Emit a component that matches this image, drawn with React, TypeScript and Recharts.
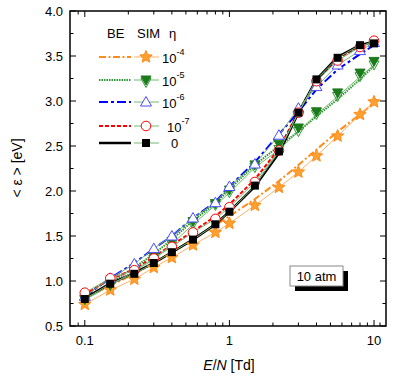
import React from "react";
import { LineChart, Line, XAxis, YAxis, ReferenceArea } from "recharts";

// E/N [Td]
const EN = [0.1, 0.15, 0.22, 0.3, 0.4, 0.56, 0.8, 1, 1.5, 2.2, 3, 4, 5.6, 8, 10];

// BE (Boltzmann equation) curves
const BE_1E4 = [0.8, 0.95, 1.08, 1.2, 1.31, 1.47, 1.62, 1.72, 1.91, 2.11, 2.29, 2.46, 2.66, 2.85, 2.98];
const BE_1E5 = [0.8, 0.98, 1.15, 1.3, 1.46, 1.67, 1.86, 2.02, 2.29, 2.5, 2.66, 2.83, 3.02, 3.24, 3.39];
const BE_1E6 = [0.83, 1.03, 1.2, 1.36, 1.5, 1.7, 1.88, 2.05, 2.32, 2.63, 2.88, 3.13, 3.35, 3.52, 3.62];
const BE_1E7 = [0.85, 1.02, 1.13, 1.27, 1.4, 1.55, 1.72, 1.85, 2.13, 2.47, 2.88, 3.23, 3.47, 3.61, 3.66];
const BE_0 = [0.81, 0.97, 1.09, 1.2, 1.32, 1.46, 1.63, 1.77, 2.05, 2.42, 2.87, 3.24, 3.49, 3.62, 3.66];

// SIM (simulation) points
const SIM_1E4 = [0.74, 0.9, 1.02, 1.15, 1.26, 1.4, 1.54, 1.64, 1.84, 2.04, 2.21, 2.39, 2.61, 2.85, 2.99];
const SIM_1E5 = [0.8, 0.96, 1.13, 1.27, 1.44, 1.66, 1.86, 2.01, 2.29, 2.52, 2.7, 2.88, 3.09, 3.31, 3.44];
const SIM_1E5B = [0.79, 0.95, 1.11, 1.24, 1.41, 1.63, 1.84, 1.98, 2.26, 2.46, 2.66, 2.85, 3.05, 3.27, 3.4];
const SIM_1E6 = [0.83, 1.03, 1.19, 1.36, 1.5, 1.7, 1.87, 2.05, 2.3, 2.62, 2.92, 3.16, 3.4, 3.56, 3.65];
const SIM_1E7 = [0.87, 1.03, 1.12, 1.25, 1.38, 1.54, 1.69, 1.82, 2.1, 2.45, 2.87, 3.22, 3.45, 3.6, 3.67];
const SIM_0 = [0.8, 0.97, 1.08, 1.2, 1.32, 1.46, 1.63, 1.77, 2.06, 2.44, 2.87, 3.24, 3.48, 3.62, 3.64];

const X_TICKS = [0.09, 0.1, 0.2, 0.3, 0.4, 0.5, 0.6, 0.7, 0.8, 0.9, 1, 2, 3, 4, 5, 6, 7, 8, 9, 10, 11];
const X_LABELS: Record<string, string> = { "0.1": "0.1", "1": "1", "10": "10" };
const Y_TICKS = [0.5, 0.75, 1, 1.25, 1.5, 1.75, 2, 2.25, 2.5, 2.75, 3, 3.25, 3.5, 3.75, 4];

const W = 417;
const H = 377;
const MARGIN = { top: 11, right: 31, bottom: 21, left: 10 };
const PLOT_TOP = MARGIN.top;
const PLOT_RIGHT = W - MARGIN.right;
const FONT = "'Liberation Sans', Arial, sans-serif";

const ORANGE = "#ff8c1a";
const STAR_FILL = "#ffa02e";
const DKGREEN = "#1b7a1b";
const GREEN = "#2e9a2e";
const LTGREEN = "#74b874";
const BLUE = "#0000ff";
const LTBLUE = "#4a4aff";
const RED = "#ff0000";

const rows = EN.map((x, i) => ({
  x,
  be4: BE_1E4[i],
  be5: BE_1E5[i],
  be6: BE_1E6[i],
  be7: BE_1E7[i],
  be0: BE_0[i],
  sim4: SIM_1E4[i],
  sim5: SIM_1E5[i],
  sim5b: SIM_1E5B[i],
  sim6: SIM_1E6[i],
  sim7: SIM_1E7[i],
  sim0: SIM_0[i],
}));

function starPath(cx: number, cy: number, r: number) {
  const pts: string[] = [];
  for (let k = 0; k < 10; k++) {
    const rr = k % 2 === 0 ? r : r * 0.45;
    const a = -Math.PI / 2 + (k * Math.PI) / 5;
    pts.push(`${cx + rr * Math.cos(a)},${cy + rr * Math.sin(a)}`);
  }
  return `M${pts.join("L")}Z`;
}

const Star = ({ cx, cy }: any) => (
  <path d={starPath(cx, cy, 6.5)} fill={STAR_FILL} stroke={ORANGE} strokeWidth={1} />
);
const TriDown = ({ cx, cy, filled }: any) => (
  <path
    d={`M${cx - 5},${cy - 4}L${cx + 5},${cy - 4}L${cx},${cy + 5}Z`}
    fill={filled ? DKGREEN : "none"}
    stroke={filled ? DKGREEN : GREEN}
    strokeWidth={1}
  />
);
const TriUp = ({ cx, cy }: any) => (
  <path d={`M${cx},${cy - 5.5}L${cx + 5.5},${cy + 4}L${cx - 5.5},${cy + 4}Z`} fill="#fff" stroke={LTBLUE} strokeWidth={1} />
);
const Circ = ({ cx, cy }: any) => <circle cx={cx} cy={cy} r={4.8} fill="#fff" stroke={RED} strokeWidth={1} />;
const Sq = ({ cx, cy }: any) => <rect x={cx - 4} y={cy - 4} width={8} height={8} fill="#000" />;

const dotWith = (Comp: any, extra: any = {}) => (p: any) =>
  p.cx == null ? <g key={`n-${p.index}`} /> : <Comp key={`d-${p.index}`} cx={p.cx} cy={p.cy} {...extra} />;

const XTick = (props: any) => {
  const { x, y, payload } = props;
  const label = X_LABELS[String(payload.value)];
  const len = label ? 6 : 3.5;
  return (
    <g>
      <line x1={x} x2={x} y1={y} y2={y - len} stroke="#000" strokeWidth={1} />
      <line x1={x} x2={x} y1={PLOT_TOP} y2={PLOT_TOP + len} stroke="#000" strokeWidth={1} />
      {label && (
        <text x={x} y={y + 19} textAnchor="middle" fontSize={13} fontFamily={FONT} fill="#000">
          {label}
        </text>
      )}
    </g>
  );
};

const YTick = (props: any) => {
  const { x, y, payload } = props;
  const v = payload.value as number;
  const major = Math.abs(v * 2 - Math.round(v * 2)) < 1e-6;
  const len = major ? 6 : 3.5;
  return (
    <g>
      <line x1={x} x2={x + len} y1={y} y2={y} stroke="#000" strokeWidth={1} />
      <line x1={PLOT_RIGHT} x2={PLOT_RIGHT - len} y1={y} y2={y} stroke="#000" strokeWidth={1} />
      {major && (
        <text x={x - 7} y={y + 4.5} textAnchor="end" fontSize={13} fontFamily={FONT} fill="#000">
          {v.toFixed(1)}
        </text>
      )}
    </g>
  );
};

const LEGEND = [
  { y: 57, be: { stroke: ORANGE, dash: "7 2.5 2 2.5", w: 2 }, sim: "star", line: "#ffb266", exp: "-4", lx: 162 },
  { y: 80, be: { stroke: GREEN, dash: "1.5 1", w: 2 }, sim: "tri5", line: LTGREEN, exp: "-5", lx: 162 },
  { y: 102, be: { stroke: BLUE, dash: "9 3 3 3", w: 2 }, sim: "tri6", line: LTGREEN, exp: "-6", lx: 162 },
  { y: 126, be: { stroke: RED, dash: "4 2", w: 2 }, sim: "circ", line: LTGREEN, exp: "-7", lx: 167 },
  { y: 143, be: { stroke: "#000", dash: undefined, w: 2.5 }, sim: "sq", line: LTGREEN, exp: "", lx: 171 },
];

function Overlay() {
  return (
    <svg width={W} height={H} style={{ position: "absolute", left: 0, top: 0, pointerEvents: "none" }}>
      <g fontFamily={FONT} fontSize={13} fill="#000">
        <text x={107} y={38}>BE</text>
        <text x={137} y={38}>SIM</text>
        <text x={169} y={38}>η</text>
        {LEGEND.map((r) => (
          <g key={r.y}>
            <line x1={99} x2={131} y1={r.y} y2={r.y} stroke={r.be.stroke} strokeWidth={r.be.w} strokeDasharray={r.be.dash} />
            <line x1={134} x2={159} y1={r.y} y2={r.y} stroke={r.line} strokeWidth={1} />
            {r.sim === "star" && <Star cx={146} cy={r.y} />}
            {r.sim === "tri5" && (
              <g>
                <TriDown cx={146} cy={r.y + 2.5} filled={false} />
                <TriDown cx={146} cy={r.y} filled={true} />
              </g>
            )}
            {r.sim === "tri6" && <TriUp cx={146} cy={r.y} />}
            {r.sim === "circ" && <Circ cx={146} cy={r.y} />}
            {r.sim === "sq" && <Sq cx={146} cy={r.y} />}
            {r.exp ? (
              <text x={r.lx} y={r.y + 6}>
                10<tspan fontSize={9} dy={-8}>{r.exp}</tspan>
              </text>
            ) : (
              <text x={r.lx} y={r.y + 5}>0</text>
            )}
          </g>
        ))}
        <rect x={295} y={271} width={53} height={20} fill="#000" />
        <rect x={290} y={266} width={53} height={20} fill="#fff" stroke="#888" strokeWidth={1} />
        <text x={316.5} y={281} textAnchor="middle">10 atm</text>
        <text x={229} y={370} textAnchor="middle" fontSize={14}>
          <tspan fontStyle="italic">E</tspan>/<tspan fontStyle="italic">N</tspan> [Td]
        </text>
        <text x={22} y={168} textAnchor="middle" fontSize={14} transform="rotate(-90 22 168)">
          {"< ε > [eV]"}
        </text>
      </g>
    </svg>
  );
}

export default function App() {
  return (
    <div style={{ position: "absolute", left: 0, top: 0, width: W, height: H, background: "#fff" }}>
      <LineChart width={W} height={H} data={rows} margin={MARGIN}>
        <XAxis
          dataKey="x"
          type="number"
          scale="log"
          domain={[0.079, 12.1]}
          allowDataOverflow
          ticks={X_TICKS}
          interval={0}
          tick={<XTick />}
          tickSize={0}
          tickMargin={0}
          axisLine={false}
          tickLine={false}
          height={30}
        />
        <YAxis
          type="number"
          domain={[0.5, 4]}
          ticks={Y_TICKS}
          interval={0}
          tick={<YTick />}
          tickSize={0}
          tickMargin={0}
          axisLine={false}
          tickLine={false}
          width={60}
        />
        <ReferenceArea x1={0.079} x2={12.1} y1={0.5} y2={4} fill="none" stroke="#000" strokeWidth={1.5} ifOverflow="visible" />
        {/* BE curves */}
        <Line dataKey="be4" stroke={ORANGE} strokeWidth={2} strokeDasharray="7 2.5 2 2.5" dot={false} isAnimationActive={false} />
        <Line dataKey="be5" stroke={GREEN} strokeWidth={2} strokeDasharray="1.5 1" dot={false} isAnimationActive={false} />
        <Line dataKey="be6" stroke={BLUE} strokeWidth={2} strokeDasharray="9 3 3 3" dot={false} isAnimationActive={false} />
        <Line dataKey="be7" stroke={RED} strokeWidth={2} strokeDasharray="4 2" dot={false} isAnimationActive={false} />
        <Line dataKey="be0" stroke="#000" strokeWidth={2.5} dot={false} isAnimationActive={false} />
        {/* SIM points */}
        <Line dataKey="sim4" stroke="#ffb266" strokeWidth={1} dot={dotWith(Star)} isAnimationActive={false} />
        <Line dataKey="sim5b" stroke={LTGREEN} strokeWidth={1} dot={dotWith(TriDown, { filled: false })} isAnimationActive={false} />
        <Line dataKey="sim5" stroke="none" dot={dotWith(TriDown, { filled: true })} isAnimationActive={false} />
        <Line dataKey="sim6" stroke={LTGREEN} strokeWidth={1} dot={dotWith(TriUp)} isAnimationActive={false} />
        <Line dataKey="sim7" stroke={LTGREEN} strokeWidth={1} dot={dotWith(Circ)} isAnimationActive={false} />
        <Line dataKey="sim0" stroke={LTGREEN} strokeWidth={1} dot={dotWith(Sq)} isAnimationActive={false} />
      </LineChart>
      <Overlay />
    </div>
  );
}
